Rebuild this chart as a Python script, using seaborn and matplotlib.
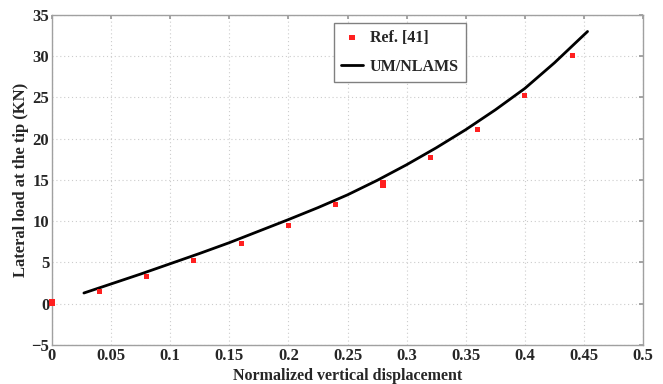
import matplotlib
matplotlib.use("Agg")
import matplotlib.pyplot as plt
import seaborn as sns
import pandas as pd

# Reference data (Ref. [41])
ref_x = [0.0, 0.0, 0.04, 0.08, 0.12, 0.16, 0.20, 0.24, 0.28, 0.28, 0.32, 0.36, 0.40, 0.44]
ref_y = [0.0, 0.3, 1.5, 3.3, 5.2, 7.3, 9.5, 12.0, 14.4, 14.7, 17.7, 21.1, 25.2, 30.1]

# UM/NLAMS curve
um_x = [0.027, 0.05, 0.075, 0.10, 0.125, 0.15, 0.175, 0.20, 0.225, 0.25, 0.275,
        0.30, 0.325, 0.35, 0.375, 0.40, 0.425, 0.453]
um_y = [1.3, 2.4, 3.6, 4.85, 6.1, 7.4, 8.8, 10.2, 11.65, 13.2, 14.95,
        16.85, 18.9, 21.1, 23.5, 26.1, 29.2, 33.0]

x_ticks = [0, 0.05, 0.1, 0.15, 0.2, 0.25, 0.3, 0.35, 0.4, 0.45, 0.5]
x_tick_labels = ["0", "0.05", "0.1", "0.15", "0.2", "0.25", "0.3", "0.35", "0.4", "0.45", "0.5"]
y_ticks = [-5, 0, 5, 10, 15, 20, 25, 30, 35]
y_tick_labels = ["\u22125", "0", "5", "10", "15", "20", "25", "30", "35"]

sns.set_theme(style="white")
plt.rcParams['font.family'] = ['Liberation Serif', 'DejaVu Serif']
plt.rcParams['font.weight'] = 'bold'

fig = plt.figure(figsize=(6.63, 3.84), dpi=100)
ax = fig.add_axes([0.0784, 0.1016, 0.8916, 0.8594])

ref_df = pd.DataFrame({"x": ref_x, "y": ref_y})
um_df = pd.DataFrame({"x": um_x, "y": um_y})

sns.lineplot(data=um_df, x="x", y="y", ax=ax, color="black", linewidth=2.0,
             label="UM/NLAMS", sort=False, zorder=3)
sns.scatterplot(data=ref_df, x="x", y="y", ax=ax, color="#ff2020", marker="s",
                s=14, edgecolor="none", label="Ref. [41]", zorder=4, clip_on=False)

ax.set_xlim(0, 0.5)
ax.set_ylim(-5, 35)
ax.set_xticks(x_ticks)
ax.set_xticklabels(x_tick_labels)
ax.set_yticks(y_ticks)
ax.set_yticklabels(y_tick_labels)
ax.tick_params(axis='both', labelsize=12, pad=2, length=3, direction='in', color='#999999',
               top=True, right=True)
for lbl in ax.get_xticklabels() + ax.get_yticklabels():
    lbl.set_fontweight('bold')

ax.grid(True, linestyle=(0, (1, 2.5)), color='#cccccc', linewidth=0.8)
for sp in ax.spines.values():
    sp.set_color('#a0a0a0')
    sp.set_linewidth(1.0)

ax.set_xlabel("Normalized vertical displacement", fontsize=11.5, fontweight='bold', labelpad=3)
ax.set_ylabel("Lateral load at the tip (KN)", fontsize=12, fontweight='bold', labelpad=2)

handles, labels = ax.get_legend_handles_labels()
order = [labels.index("Ref. [41]"), labels.index("UM/NLAMS")]
leg = ax.legend([handles[i] for i in order], [labels[i] for i in order],
                loc='upper left', bbox_to_anchor=(0.477, 0.976),
                frameon=True, fancybox=False, edgecolor='#808080', framealpha=1,
                handlelength=1.35, handletextpad=0.45, borderpad=0.45, borderaxespad=0.0,
                labelspacing=0.8,
                prop={'weight': 'bold', 'size': 11.5})
leg.get_frame().set_linewidth(1.0)

fig.savefig("out.png", dpi=100)
